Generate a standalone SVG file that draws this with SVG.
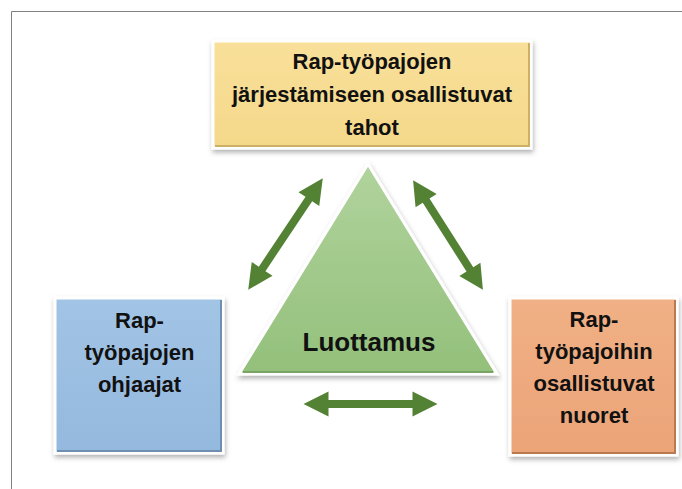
<svg xmlns="http://www.w3.org/2000/svg" width="682" height="489" viewBox="0 0 682 489">
<defs>
<style>
.frame{stroke:#808080;stroke-width:1;fill:none}
.box{stroke:#ffffff;stroke-width:3}
.lbl{font-family:"Liberation Sans",Arial,sans-serif;font-weight:bold;font-size:22px;fill:#111;text-anchor:middle}
.big{font-size:26px}
.arrow{fill:#548235}
.bev{fill:none;stroke-width:2}
</style>
<filter id="sh" x="-20%" y="-20%" width="140%" height="140%">
<feDropShadow dx="1" dy="3" stdDeviation="2.5" flood-color="#000" flood-opacity="0.3"/>
</filter>
<linearGradient id="gY" x1="0" y1="0" x2="0" y2="1"><stop offset="0" stop-color="#f9e09a"/><stop offset="1" stop-color="#f4d88a"/></linearGradient>
<linearGradient id="gB" x1="0" y1="0" x2="0" y2="1"><stop offset="0" stop-color="#a2c4e5"/><stop offset="1" stop-color="#94b9de"/></linearGradient>
<linearGradient id="gO" x1="0" y1="0" x2="0" y2="1"><stop offset="0" stop-color="#f1b085"/><stop offset="1" stop-color="#eba478"/></linearGradient>
<linearGradient id="gG" x1="0" y1="0" x2="0" y2="1"><stop offset="0" stop-color="#b1d39d"/><stop offset="1" stop-color="#93c07b"/></linearGradient>
<path id="dbl" d="M -67 0 L -42 -12.5 L -42 -4 L 42 -4 L 42 -12.5 L 67 0 L 42 12.5 L 42 4 L -42 4 L -42 12.5 Z"/>
</defs>
<rect width="682" height="489" fill="#ffffff"/>
<path class="frame" d="M 682 11.5 H 11.5 V 489"/>

<g id="node-top">
<rect class="box" x="213" y="41" width="318" height="107" fill="url(#gY)" filter="url(#sh)"/>
<path class="bev" stroke="#cdb063" d="M 215 146 H 529 V 43"/>
<text class="lbl" x="372" y="69">Rap-työpajojen</text>
<text class="lbl" x="372" y="102">järjestämiseen osallistuvat</text>
<text class="lbl" x="372" y="135">tahot</text>
</g>

<g id="node-left">
<rect class="box" x="55" y="298" width="168" height="155" fill="url(#gB)" filter="url(#sh)"/>
<path class="bev" stroke="#6e8fb0" d="M 57 451 H 221 V 300"/>
<text class="lbl" x="139.5" y="328">Rap-</text>
<text class="lbl" x="139.5" y="360">työpajojen</text>
<text class="lbl" x="139.5" y="392">ohjaajat</text>
</g>

<g id="node-right">
<rect class="box" x="510" y="298" width="167" height="157" fill="url(#gO)" filter="url(#sh)"/>
<path class="bev" stroke="#b97a52" d="M 512 453 H 675 V 300"/>
<text class="lbl" x="594" y="327">Rap-</text>
<text class="lbl" x="594" y="359">työpajoihin</text>
<text class="lbl" x="594" y="391">osallistuvat</text>
<text class="lbl" x="594" y="423">nuoret</text>
</g>

<g id="node-center">
<polygon points="368,164 239,374 497,374" fill="url(#gG)" stroke="#ffffff" stroke-width="3" stroke-linejoin="miter" filter="url(#sh)"/>
<path class="bev" stroke="#7aa464" d="M 243 372 H 493"/>
<text class="lbl big" x="369" y="351">Luottamus</text>
</g>

<g id="connectors">
<use href="#dbl" class="arrow" transform="translate(285.5,234) rotate(-56.2)"/>
<use href="#dbl" class="arrow" transform="translate(448,235) rotate(57.5) scale(0.97,1)"/>
<use href="#dbl" class="arrow" transform="translate(370.5,404)"/>
</g>
</svg>
